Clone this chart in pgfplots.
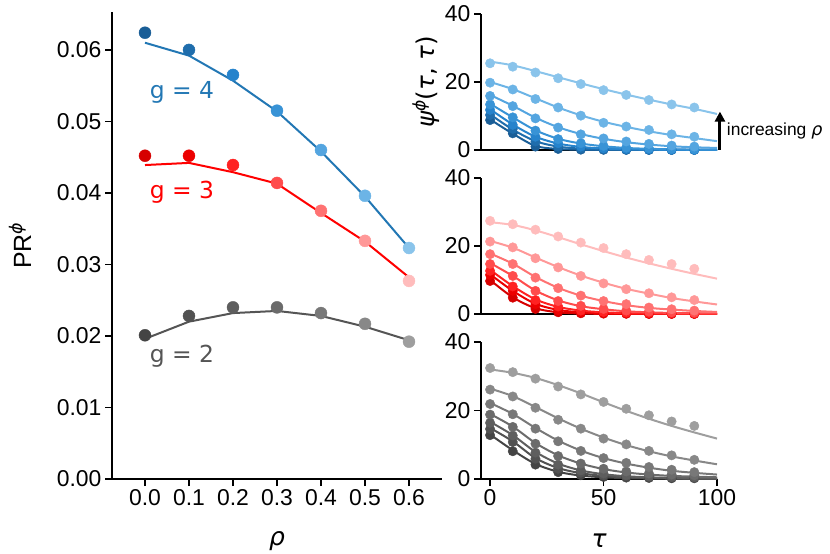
\documentclass[border=0pt]{standalone}
\usepackage{pgfplots}
\pgfplotsset{compat=1.18}
\usepackage{pgfplotstable}
\usepackage{fontspec}
\setmainfont{Liberation Sans}
\newfontfamily\dv{DejaVu Sans}
\usetikzlibrary{arrows.meta}

\definecolor{B0}{HTML}{1A5E97}
\definecolor{B1}{HTML}{1F6DAC}
\definecolor{B2}{HTML}{2683CC}
\definecolor{B3}{HTML}{3893D6}
\definecolor{B4}{HTML}{54A5E0}
\definecolor{B5}{HTML}{6CB4E6}
\definecolor{B6}{HTML}{8AC4EB}
\definecolor{R0}{HTML}{D60000}
\definecolor{R1}{HTML}{EC0000}
\definecolor{R2}{HTML}{FF2222}
\definecolor{R3}{HTML}{FF4C4C}
\definecolor{R4}{HTML}{FF7272}
\definecolor{R5}{HTML}{FF9898}
\definecolor{R6}{HTML}{FFBCBC}
\definecolor{G0}{HTML}{444444}
\definecolor{G1}{HTML}{525252}
\definecolor{G2}{HTML}{5E5E5E}
\definecolor{G3}{HTML}{6B6B6B}
\definecolor{G4}{HTML}{787878}
\definecolor{G5}{HTML}{888888}
\definecolor{G6}{HTML}{9E9E9E}
\definecolor{LB}{HTML}{2277B4}
\definecolor{LR}{HTML}{FF0000}
\definecolor{LG}{HTML}{555555}

\newcommand\gr[1]{{\dv\itshape #1}}

% left panel
\pgfplotstableread{
x y c
0.0 0.0624 b0
0.1 0.0600 b1
0.2 0.0565 b2
0.3 0.0515 b3
0.4 0.0460 b4
0.5 0.0396 b5
0.6 0.0323 b6
}\gfourdots
\pgfplotstableread{
x y
0.0 0.0610
0.1 0.0592
0.2 0.0557
0.3 0.0514
0.4 0.0458
0.5 0.0395
0.6 0.0323
}\gfourline
\pgfplotstableread{
x y c
0.0 0.0452 r0
0.1 0.0452 r1
0.2 0.0439 r2
0.3 0.0414 r3
0.4 0.0375 r4
0.5 0.0333 r5
0.6 0.0277 r6
}\gthreedots
\pgfplotstableread{
x y
0.0 0.0439
0.1 0.0442
0.2 0.0429
0.3 0.0413
0.4 0.0372
0.5 0.0332
0.6 0.0282
}\gthreeline
\pgfplotstableread{
x y c
0.0 0.0201 k0
0.1 0.0228 k1
0.2 0.0240 k2
0.3 0.0240 k3
0.4 0.0232 k4
0.5 0.0217 k5
0.6 0.0192 k6
}\gtwodots
\pgfplotstableread{
x y
0.0 0.0196
0.1 0.0220
0.2 0.0232
0.3 0.0235
0.4 0.0228
0.5 0.0213
0.6 0.0194
}\gtwoline

% right panels: dots
\pgfplotstableread{
t r0 r1 r2 r3 r4 r5 r6
0 8.8 10.3 11.8 13.4 15.9 19.8 25.5
10 4.9 6.2 7.4 9.6 12.9 17.8 24.5
20 1.0 2.5 3.9 5.7 9.3 15.0 22.8
30 0.3 1.0 2.0 3.2 6.6 12.5 21.1
40 0.1 0.4 1.0 2.0 4.6 10.1 19.4
50 0.05 0.2 0.5 1.2 3.4 8.0 17.6
60 0.02 0.1 0.3 0.7 2.5 6.9 16.2
70 0.01 0.05 0.2 0.5 1.8 5.9 14.7
80 0 0.03 0.1 0.3 1.3 4.6 13.4
90 0 0.02 0.05 0.2 1.0 3.9 12.5
}\bluedots
\pgfplotstableread{
t r0 r1 r2 r3 r4 r5 r6
0 9.0 10.5 12.0 13.6 16.2 20.0 26.0
10 4.8 6.0 7.5 9.6 13.0 17.9 24.9
20 1.2 2.6 3.9 5.8 9.5 15.2 23.2
30 0.3 1.0 1.9 3.3 6.7 12.5 21.4
40 0.08 0.4 0.9 1.9 4.7 10.2 19.6
50 0.02 0.15 0.45 1.1 3.3 8.3 17.9
60 0 0.06 0.22 0.6 2.3 6.8 16.3
70 0 0.02 0.1 0.35 1.6 5.5 14.8
80 0 0.01 0.05 0.2 1.1 4.4 13.4
90 0 0 0.03 0.12 0.8 3.5 12.1
100 0 0 0.01 0.07 0.6 2.6 10.6
}\bluecurve
\pgfplotstableread{
t r0 r1 r2 r3 r4 r5 r6
0 9.7 11.5 12.7 14.7 17.6 21.3 27.4
10 4.8 6.8 8.1 11.2 14.7 19.6 26.4
20 1.5 2.9 4.1 6.8 10.7 16.4 24.8
30 0.5 1.2 2.2 3.8 7.6 13.7 22.8
40 0.2 0.5 1.0 2.4 5.4 11.2 21.0
50 0.1 0.3 0.6 1.5 3.8 9.0 19.4
60 0.05 0.2 0.4 1.0 2.9 7.3 17.6
70 0 0.1 0.3 0.7 1.9 6.1 15.9
80 0 0.1 0.2 0.5 1.4 4.9 14.7
90 0 0.05 0.15 0.4 1.0 4.1 13.3
}\reddots
\pgfplotstableread{
t r0 r1 r2 r3 r4 r5 r6
0 10.0 11.7 13.0 15.0 17.8 21.5 27.0
10 4.9 6.8 8.2 11.2 14.8 19.5 26.2
20 1.7 3.0 4.3 6.9 10.9 16.6 24.6
30 0.5 1.2 2.1 4.0 7.7 13.8 22.6
40 0.15 0.5 1.0 2.3 5.4 11.3 20.5
50 0.04 0.2 0.5 1.4 3.8 9.2 18.5
60 0.01 0.08 0.25 0.8 2.6 7.4 16.6
70 0 0.03 0.12 0.5 1.8 6.0 14.9
80 0 0.01 0.06 0.3 1.3 4.7 13.3
90 0 0 0.03 0.2 0.9 3.7 11.8
100 0 0 0.02 0.15 0.6 2.8 10.4
}\redcurve
\pgfplotstableread{
t r0 r1 r2 r3 r4 r5 r6
0 12.8 14.6 16.4 18.8 21.9 26.1 32.4
10 8.1 10.8 12.7 15.2 18.9 24.1 31.2
20 4.2 5.9 7.7 10.3 14.7 20.8 29.3
30 2.0 3.0 4.2 6.7 11.0 17.3 27.0
40 1.1 1.8 2.5 4.5 8.2 14.7 24.7
50 0.6 1.1 1.6 3.0 6.1 11.8 22.5
60 0.4 0.8 1.1 2.2 4.7 10.1 20.5
70 0.3 0.6 0.8 1.6 3.5 8.2 18.6
80 0.2 0.5 0.6 1.3 2.7 6.9 16.8
90 0.2 0.4 0.5 1.1 2.0 5.6 15.5
}\graydots
\pgfplotstableread{
t r0 r1 r2 r3 r4 r5 r6
0 13.0 14.9 16.7 19.0 22.2 26.4 32.0
10 8.4 11.0 12.8 15.3 19.0 24.2 31.0
20 4.4 6.1 7.9 10.5 14.9 21.0 29.5
30 2.1 3.2 4.5 6.9 11.2 17.7 27.4
40 1.0 1.7 2.5 4.5 8.3 14.7 25.0
50 0.5 0.9 1.4 2.9 6.1 12.1 22.4
60 0.25 0.5 0.8 1.9 4.5 9.9 19.9
70 0.12 0.3 0.5 1.3 3.3 8.1 17.6
80 0.06 0.2 0.3 0.9 2.4 6.6 15.5
90 0.03 0.1 0.2 0.7 1.8 5.4 13.6
100 0.02 0.1 0.15 0.5 1.3 4.3 11.8
}\graycurve

\pgfplotsset{
  base/.style={
    scale only axis, anchor=south west,
    axis x line*=bottom, axis y line*=left,
    axis line style={line width=1.25bp, -},
    tick align=outside, major tick length=7bp,
    every tick/.style={black, line width=1.25bp},
    tick label style={font=\fontsize{23}{27}\selectfont},
    /pgf/number format/assume math mode=true,
    clip=false,
  },
  right/.style={base, width=236bp, xmin=-4, xmax=100, ymin=0, ymax=40,
    ytick={0,20,40}},
}

\begin{document}
\begin{tikzpicture}
\useasboundingbox (0,0) rectangle (830bp,554bp);

% ---------- left ----------
\begin{axis}[base, at={(112bp,75bp)}, width=330bp, height=467bp,
  xmin=-0.075, xmax=0.675, ymin=0, ymax=0.0653,
  xtick={0,0.1,0.2,0.3,0.4,0.5,0.6},
  ytick={0,0.01,0.02,0.03,0.04,0.05,0.06},
  scaled y ticks=false, scaled x ticks=false,
  xticklabel style={/pgf/number format/.cd, fixed, fixed zerofill, precision=1},
  yticklabel style={/pgf/number format/.cd, fixed, fixed zerofill, precision=2},
  scatter/classes={
    b0={fill=B0,draw=B0}, b1={fill=B1,draw=B1}, b2={fill=B2,draw=B2}, b3={fill=B3,draw=B3},
    b4={fill=B4,draw=B4}, b5={fill=B5,draw=B5}, b6={fill=B6,draw=B6},
    r0={fill=R0,draw=R0}, r1={fill=R1,draw=R1}, r2={fill=R2,draw=R2}, r3={fill=R3,draw=R3},
    r4={fill=R4,draw=R4}, r5={fill=R5,draw=R5}, r6={fill=R6,draw=R6},
    k0={fill=G0,draw=G0}, k1={fill=G1,draw=G1}, k2={fill=G2,draw=G2}, k3={fill=G3,draw=G3},
    k4={fill=G4,draw=G4}, k5={fill=G5,draw=G5}, k6={fill=G6,draw=G6}},
]
\addplot[LB, line width=2bp, no marks] table[x=x,y=y] {\gfourline};
\addplot[scatter, only marks, mark=*, mark size=6bp, scatter src=explicit symbolic]
  table[x=x,y=y,meta=c] {\gfourdots};
\addplot[LR, line width=2bp, no marks] table[x=x,y=y] {\gthreeline};
\addplot[scatter, only marks, mark=*, mark size=6bp, scatter src=explicit symbolic]
  table[x=x,y=y,meta=c] {\gthreedots};
\addplot[LG, line width=2bp, no marks] table[x=x,y=y] {\gtwoline};
\addplot[scatter, only marks, mark=*, mark size=6bp, scatter src=explicit symbolic]
  table[x=x,y=y,meta=c] {\gtwodots};
\node[anchor=west, text=LB, font=\dv\fontsize{23.5}{27}\selectfont] at (axis cs:0.003,0.0541) {g = 4};
\node[anchor=west, text=LR, font=\dv\fontsize{23.5}{27}\selectfont] at (axis cs:0.003,0.0401) {g = 3};
\node[anchor=west, text=LG, font=\dv\fontsize{23.5}{27}\selectfont] at (axis cs:0.003,0.0172) {g = 2};
\node[font=\fontsize{25}{29}\selectfont] at ([yshift=-62bp]rel axis cs:0.5,0) {\gr{ρ}};
\node[font=\fontsize{25}{29}\selectfont, rotate=90] at ([xshift=-92bp]rel axis cs:0,0.5) {PR\textsuperscript{\gr{ϕ}}};
\end{axis}

% ---------- right top (blue) ----------
\begin{axis}[right, at={(481bp,404bp)}, height=136bp, xtick=\empty]
\pgfplotsinvokeforeach{0,1,2,3,4,5,6}{
  \addplot[B#1, line width=2bp, smooth, no marks] table[x=t,y=r#1] {\bluecurve};
  \addplot[only marks, mark=*, mark size=4.7bp, mark options={fill=B#1, draw=B#1}] table[x=t,y=r#1] {\bluedots};
}
\draw[-{Triangle[length=10bp,width=10bp]}, line width=3bp] (axis cs:101.3,0) -- (axis cs:101.3,11.3);
\node[anchor=west, font=\fontsize{17.5}{21}\selectfont, inner sep=0pt] at (axis cs:104.3,5.6) {increasing \gr{ρ}};
\node[font=\dv\fontsize{24.5}{29}\selectfont, rotate=90] at ([xshift=-55bp]rel axis cs:0,0.5) {\itshape ψ\textsuperscript{ϕ}\upshape(\itshape τ\upshape, \itshape τ\upshape)};
\end{axis}

% ---------- right middle (red) ----------
\begin{axis}[right, at={(481bp,240bp)}, height=136bp, xtick=\empty]
\pgfplotsinvokeforeach{0,1,2,3,4,5,6}{
  \addplot[R#1, line width=2bp, smooth, no marks] table[x=t,y=r#1] {\redcurve};
  \addplot[only marks, mark=*, mark size=4.7bp, mark options={fill=R#1, draw=R#1}] table[x=t,y=r#1] {\reddots};
}
\end{axis}

% ---------- right bottom (gray) ----------
\begin{axis}[right, at={(481bp,75bp)}, height=137bp, xtick={0,50,100}]
\pgfplotsinvokeforeach{0,1,2,3,4,5,6}{
  \addplot[G#1, line width=2bp, smooth, no marks] table[x=t,y=r#1] {\graycurve};
  \addplot[only marks, mark=*, mark size=4.7bp, mark options={fill=G#1, draw=G#1}] table[x=t,y=r#1] {\graydots};
}
\node[font=\fontsize{25}{29}\selectfont] at ([yshift=-62bp]rel axis cs:0.5,0) {\gr{τ}};
\end{axis}
\end{tikzpicture}
\end{document}
